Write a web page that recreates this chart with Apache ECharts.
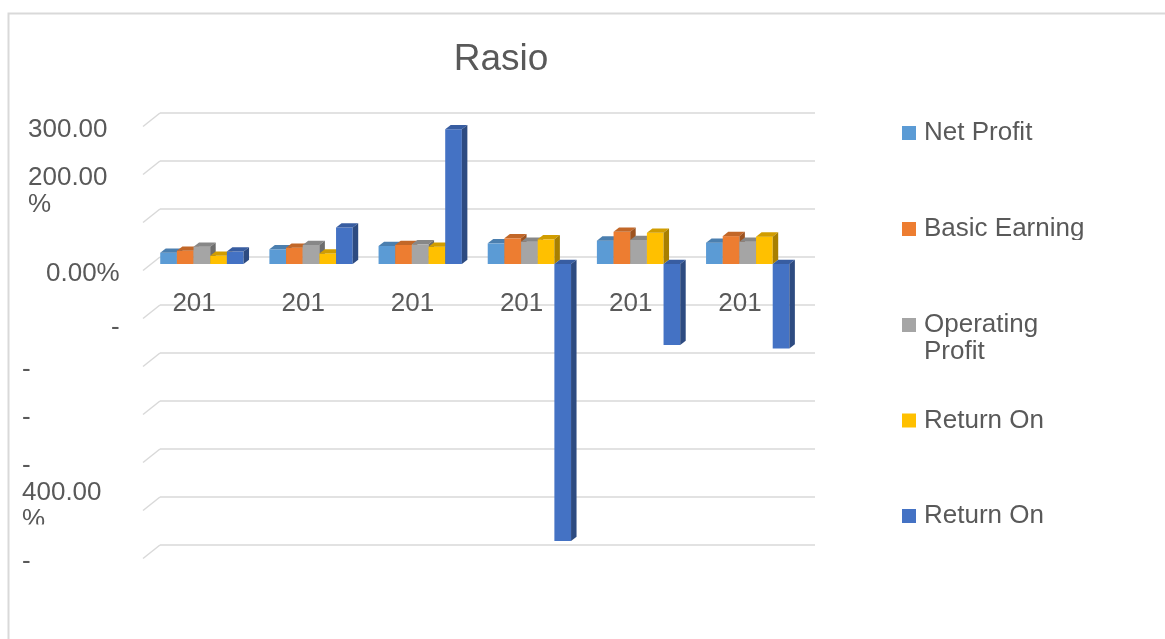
<!DOCTYPE html>
<html>
<head>
<meta charset="utf-8">
<script src="https://cdn.jsdelivr.net/npm/echarts@6/dist/echarts.min.js"></script>
<style>
html,body{margin:0;padding:0;background:#fff;}
#main{width:1165px;height:639px;}
</style>
</head>
<body>
<div id="main"></div>
<script>
// ---- data ----
const categories = ['201', '201', '201', '201', '201', '201'];
const seriesNames = ['Net Profit', 'Basic Earning', 'Operating Profit', 'Return On (a)', 'Return On (b)'];
const legendLabels = ['Net Profit', 'Basic Earning', 'Operating\nProfit', 'Return On', 'Return On'];
const netProfit = [23.5, 30.6, 37.5, 43.0, 48.6, 44.4];
const basicEarning = [27.7, 34.0, 39.6, 53.5, 67.0, 58.0];
const operatingProfit = [36.0, 39.6, 41.0, 46.5, 50.0, 46.5];
const returnOnA = [17.0, 22.0, 36.0, 51.4, 65.0, 57.0];
const returnOnB = [26.0, 76.0, 280.6, -577.0, -169.0, -176.0];
const yTickValues = [300, 200, 100, 0, -100, -200, -300, -400, -500, -600];
const yTickLabels = ['300.00', '200.00\n%', '', '0.00%', '-', '-', '-', '-\n400.00\n%', '', '-'];
const titleText = 'Rasio';

// ---- styling / layout ----
const FONT = '"Liberation Sans", Arial, sans-serif';
const TXT = '#595959';
const GRID_COLOR = '#d9d9d9';
const colors = ['#5B9BD5', '#ED7D31', '#A5A5A5', '#FFC000', '#4472C4'];
const allValues = [netProfit, basicEarning, operatingProfit, returnOnA, returnOnB];
// per tick, per line: [top padding, left padding]
const labelPad = [[[0, 6]], [[0, 6], [0, 6]], [[0, 0]], [[0, 24]], [[6, 89]], [[0, 0]], [[0, 0]], [[0, 0], [0, 0], [0, 0]], [[0, 0]], [[0, 0]]];
const legendCenters = [133, 229, 325, 420.5, 516];
const BAR_RATIO = 16.7 / 109.4;
const DEPTH_DX = 5.5, DEPTH_DY = -4.3;

function shade(hex, f) {
  const n = parseInt(hex.slice(1), 16);
  const r = Math.round(((n >> 16) & 255) * f), g = Math.round(((n >> 8) & 255) * f), b = Math.round((n & 255) * f);
  return 'rgb(' + r + ',' + g + ',' + b + ')';
}

function makeRender(s) {
  const c = colors[s];
  return function (params, api) {
    const idx = api.value(0);
    const v = api.value(1);
    const p0 = api.coord([idx, 0]);
    const p1 = api.coord([idx, v]);
    const band = api.size([1, 0])[0];
    const bw = band * BAR_RATIO;
    const left = p0[0] - 2.5 * bw + s * bw;
    const right = left + bw;
    const yt = Math.min(p0[1], p1[1]);
    const yb = Math.max(p0[1], p1[1]);
    return {
      type: 'group',
      children: [
        { type: 'rect', shape: { x: left, y: yt, width: bw, height: yb - yt }, style: { fill: c } },
        { type: 'polygon', shape: { points: [[left, yt], [right, yt], [right + DEPTH_DX, yt + DEPTH_DY], [left + DEPTH_DX, yt + DEPTH_DY]] }, style: { fill: shade(c, 0.82) } },
        { type: 'polygon', shape: { points: [[right, yt], [right + DEPTH_DX, yt + DEPTH_DY], [right + DEPTH_DX, yb + DEPTH_DY], [right, yb]] }, style: { fill: shade(c, 0.66) } }
      ]
    };
  };
}

const rich = {};
labelPad.flat().forEach(function (p) {
  rich['p' + p[0] + '_' + p[1]] = { padding: [p[0], 0, 0, p[1]], fontSize: 26, lineHeight: 27 + p[0], color: TXT, fontFamily: FONT };
});

const GRID_W = 655, GRID_H = 432;
const option = {
  backgroundColor: '#fff',
  animation: false,
  title: {
    text: titleText, left: 496, top: 36, textAlign: 'center',
    textStyle: { fontSize: 37, fontWeight: 'normal', color: TXT, fontFamily: FONT }
  },
  grid: [
    { left: 160, top: 113, width: GRID_W, height: GRID_H },       // back wall
    { left: 147.3, top: 120, width: GRID_W, height: GRID_H },     // bar plane
    { left: 141, top: 116.5, width: GRID_W, height: GRID_H },     // y label plane
    { left: 139.5, top: 0, width: GRID_W, height: 258.5 }         // x label plane (bottom edge = front zero line)
  ],
  xAxis: [0, 1, 2, 3].map(function (g) {
    return {
      type: 'category', gridIndex: g, data: categories,
      axisLine: { show: false },
      axisTick: { show: false },
      axisLabel: g === 3 ? { show: true, margin: 32.5, fontSize: 26, color: TXT, fontFamily: FONT, interval: 0 } : { show: false },
      splitLine: { show: false }
    };
  }),
  yAxis: [0, 1, 2, 3].map(function (g) {
    return {
      type: 'value', gridIndex: g, min: -600, max: 300, interval: 100,
      axisLine: { show: false }, axisTick: { show: false },
      splitLine: { show: g === 0, lineStyle: { color: GRID_COLOR, width: 1.5 } },
      axisLabel: g === 2 ? {
        show: true, align: 'left', verticalAlign: 'top', margin: 119, showMinLabel: true, showMaxLabel: true,
        fontSize: 26, lineHeight: 27, color: TXT, fontFamily: FONT, rich: rich,
        formatter: function (v) {
          const i = yTickValues.indexOf(v);
          if (i < 0 || !yTickLabels[i]) return '';
          return yTickLabels[i].split('\n').map(function (l, j) {
            const p = labelPad[i][j];
            return '{p' + p[0] + '_' + p[1] + '|' + l + '}';
          }).join('\n');
        }
      } : { show: false }
    };
  }),
  legend: seriesNames.map(function (n, i) {
    const lines = legendLabels[i].indexOf('\n') >= 0 ? legendLabels[i].split('\n').length + 1 : 1;
    return {
      data: [n], orient: 'vertical', left: 902, top: legendCenters[i] - lines * 27 / 2, padding: 0,
      itemWidth: 14, itemHeight: 14, icon: 'rect', itemGap: 0, selectedMode: false,
      formatter: function () { return lines > 1 ? '\u00a0\n' + legendLabels[i] : legendLabels[i]; },
      textStyle: { fontSize: 26, lineHeight: 27, color: TXT, fontFamily: FONT, padding: [0, 0, 0, 3] }
    };
  }),
  graphic: [
    { type: 'rect', shape: { x: 8.5, y: 13.5, width: 1300, height: 800 }, style: { fill: 'none', stroke: GRID_COLOR, lineWidth: 2 }, z: 100 },
    { type: 'rect', shape: { x: 18, y: 524.5, width: 45, height: 9 }, style: { fill: '#fff' }, z: 100 },
    { type: 'rect', shape: { x: 1060, y: 240, width: 36, height: 9 }, style: { fill: '#fff' }, z: 100 }
  ],
  series: [
    {
      type: 'custom', name: 'sidewall', xAxisIndex: 0, yAxisIndex: 0, silent: true,
      data: yTickValues.map(function (v) { return [0, v]; }),
      renderItem: function (params, api) {
        const p = api.coord([0, api.value(1)]);
        const x0 = params.coordSys.x;
        return { type: 'line', shape: { x1: x0, y1: p[1], x2: x0 - 17, y2: p[1] + 13.5 }, style: { stroke: GRID_COLOR, lineWidth: 1.5 } };
      }
    }
  ].concat(seriesNames.map(function (n, s) {
    return {
      type: 'custom', name: n, xAxisIndex: 1, yAxisIndex: 1,
      itemStyle: { color: colors[s] },
      data: allValues[s].map(function (v, i) { return [i, v]; }),
      encode: { x: 0, y: 1 },
      renderItem: makeRender(s)
    };
  }))
};

const chart = echarts.init(document.getElementById('main'), null, { renderer: 'canvas' });
chart.setOption(option);
</script>
</body>
</html>
